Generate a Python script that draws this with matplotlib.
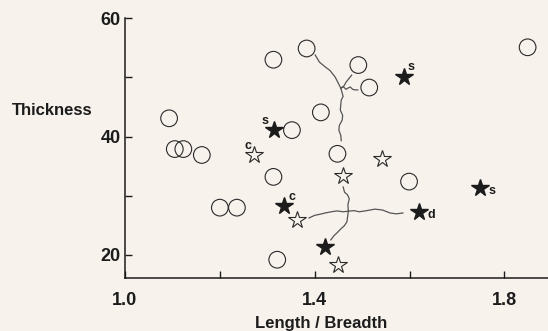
import matplotlib.pyplot as plt

plt.rcParams['font.family'] = ['Liberation Sans', 'DejaVu Sans']
plt.rcParams['font.weight'] = 'bold'

BG = '#f7f2ec'
INK = '#1c1c1c'

# open circles
circ_x = [1.093, 1.105, 1.123, 1.162, 1.200, 1.236, 1.321, 1.313, 1.313, 1.352,
          1.383, 1.413, 1.448, 1.492, 1.515, 1.599, 1.849]
circ_y = [43.1, 37.9, 37.9, 36.9, 28.0, 28.0, 19.2, 33.2, 53.0, 41.1,
          54.9, 44.1, 37.1, 52.1, 48.3, 32.4, 55.1]

# filled stars and their letters
fstar_x = [1.314, 1.336, 1.422, 1.588, 1.620, 1.749]
fstar_y = [41.2, 28.2, 21.3, 50.1, 27.3, 31.3]
fstar_lab = ['s', 'c', '', 's', 'd', 's']
fstar_off = [(-6.5, 6), (5.5, 7), (0, 0), (5, 7), (9, -2.5), (8.5, -2)]

# open stars
ostar_x = [1.273, 1.362, 1.460, 1.543, 1.449]
ostar_y = [36.9, 25.9, 33.35, 36.2, 18.3]
ostar_lab = ['c', '', '', '', '']
ostar_off = [(-5, 6.7), (0, 0), (0, 0), (0, 0), (0, 0)]

# hand-drawn wavy connectors (traced)
upper_lines = [
    ([1.401, 1.410, 1.422, 1.432, 1.443, 1.450, 1.455],
     [53.8, 52.6, 51.8, 51.2, 50.1, 49.0, 48.2]),
    ([1.455, 1.462, 1.466, 1.473, 1.478], [48.2, 48.6, 49.2, 49.9, 50.4]),
    ([1.455, 1.461, 1.466, 1.470, 1.475, 1.480, 1.485, 1.491],
     [48.2, 48.4, 48.0, 48.2, 48.4, 48.0, 47.9, 47.9]),
    ([1.455, 1.460, 1.456, 1.454, 1.459, 1.458, 1.452, 1.451, 1.455, 1.456],
     [48.2, 46.8, 46.2, 44.5, 43.6, 42.8, 41.9, 41.1, 40.2, 39.3]),
]
lower_lines = [
    ([1.388, 1.400, 1.412, 1.422, 1.435, 1.447, 1.460, 1.471],
     [26.25, 26.7, 26.9, 27.1, 27.3, 27.45, 27.3, 27.4]),
    ([1.471, 1.483, 1.494, 1.510, 1.527, 1.543, 1.559, 1.572, 1.586],
     [27.4, 27.5, 27.3, 27.5, 27.75, 27.6, 27.1, 26.95, 27.1]),
    ([1.460, 1.463, 1.469, 1.473, 1.470, 1.471],
     [31.5, 30.6, 30.2, 29.5, 28.5, 27.4]),
    ([1.471, 1.468, 1.462, 1.455, 1.449, 1.440, 1.434],
     [27.4, 25.6, 24.9, 24.4, 23.9, 23.2, 22.55]),
]

fig = plt.figure(figsize=(5.48, 3.31), dpi=100, facecolor=BG)
ax = fig.add_axes([0.2281, 0.1592, 0.7719, 0.7855], facecolor=BG)

for xs, ys in upper_lines + lower_lines:
    ax.plot(xs, ys, color='#555555', lw=0.9, zorder=1)

ax.scatter(circ_x, circ_y, s=12 ** 2, facecolors='none', edgecolors='#2a2a2a',
           linewidths=0.8, zorder=3)
ax.plot(fstar_x, fstar_y, linestyle='none', marker='*', ms=13, color=INK,
        mec=INK, zorder=4)
ax.plot(ostar_x, ostar_y, linestyle='none', marker='*', ms=13, mfc=BG,
        mec='#2a2a2a', mew=0.8, zorder=4)

for x, y, t, off in zip(fstar_x + ostar_x, fstar_y + ostar_y,
                        fstar_lab + ostar_lab, fstar_off + ostar_off):
    if t:
        ax.annotate(t, (x, y), xytext=off, textcoords='offset points',
                    ha='center', va='center', fontsize=9, fontweight='bold',
                    color=INK)

ax.set_xlim(1.0, 1.892)
ax.set_ylim(16.06, 60)
for side in ['top', 'right']:
    ax.spines[side].set_visible(False)
for side in ['left', 'bottom']:
    ax.spines[side].set_linewidth(1.1)
    ax.spines[side].set_color(INK)

ax.set_xticks([1.0, 1.2, 1.4, 1.6, 1.8])
ax.set_xticklabels(['1.0', '', '1.4', '', '1.8'])
ax.set_yticks([20, 30, 40, 50, 60])
ax.set_yticklabels(['20', '', '40', '', '60'])
ax.tick_params(axis='both', direction='in', length=5, width=1, colors=INK,
               labelsize=13)
ax.tick_params(axis='x', pad=10)
ax.tick_params(axis='y', pad=3)

ax.set_ylabel('Thickness', rotation=0, ha='right', va='center', fontsize=12,
              fontweight='bold', color=INK)
ax.yaxis.set_label_coords(-0.0757, 0.6435)
ax.set_xlabel('Length / Breadth', fontsize=12, fontweight='bold', color=INK,
              va='center')
ax.xaxis.set_label_coords(0.4634, -0.172)

fig.savefig('out.png', dpi=100, facecolor=BG)
